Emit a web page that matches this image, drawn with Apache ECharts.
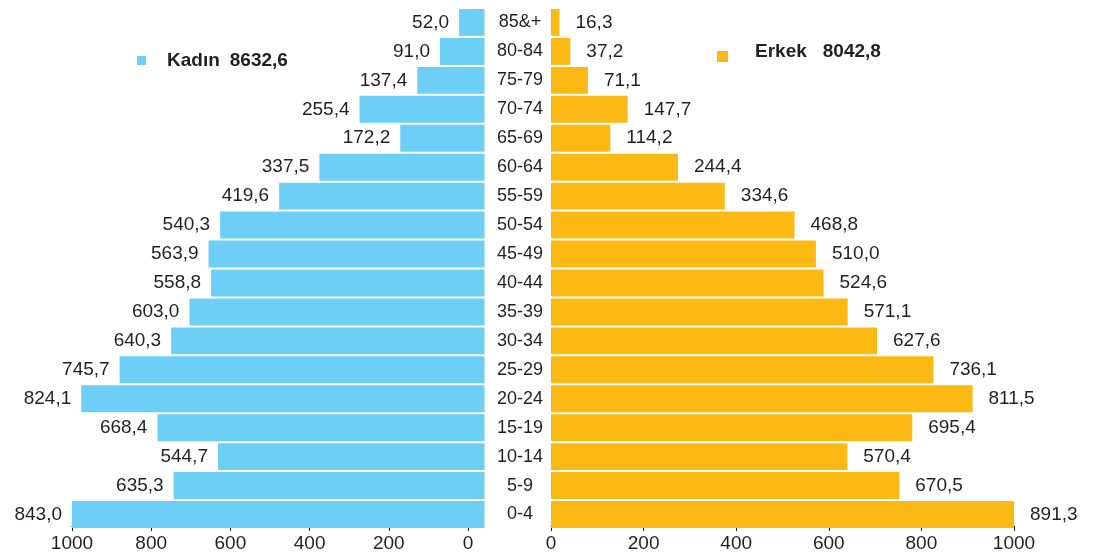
<!DOCTYPE html>
<html>
<head>
<meta charset="utf-8">
<script src="https://cdn.jsdelivr.net/npm/echarts@6/dist/echarts.min.js"></script>
<style>
html,body{margin:0;padding:0;background:#fff;}
#chart{width:1094px;height:553px;}
</style>
</head>
<body>
<div id="chart"></div>
<script>
// Age groups, top to bottom
const ageGroups = ['85&+','80-84','75-79','70-74','65-69','60-64','55-59','50-54','45-49','40-44','35-39','30-34','25-29','20-24','15-19','10-14','5-9','0-4'];
// Kadın (female), thousands
const female = [52.0, 91.0, 137.4, 255.4, 172.2, 337.5, 419.6, 540.3, 563.9, 558.8, 603.0, 640.3, 745.7, 824.1, 668.4, 544.7, 635.3, 843.0];
// Erkek (male), thousands
const male = [16.3, 37.2, 71.1, 147.7, 114.2, 244.4, 334.6, 468.8, 510.0, 524.6, 571.1, 627.6, 736.1, 811.5, 695.4, 570.4, 670.5, 891.3];
// Axis tick labels
const tickValues = [0, 200, 400, 600, 800, 1000];
const femaleName = 'Kadın';
const maleName = 'Erkek';
const femaleTotal = '8632,6';
const maleTotal = '8042,8';

const FONT = "'Liberation Sans', Arial, sans-serif";
const TXT = '#231f20';
const BLUE = '#6dcff6';
const ORANGE = '#fdb913';
const fmt = v => v.toFixed(1).replace('.', ',');

const TOP = 8, H = 521;
const chart = echarts.init(document.getElementById('chart'));
const tickMax = tickValues[tickValues.length - 1];
const tickStep = tickValues[1] - tickValues[0];

const displayAxis = (gi, inverse) => ({
  gridIndex: gi, type: 'value', min: tickValues[0], max: tickMax, interval: tickStep, inverse,
  axisLine: { show: true, lineStyle: { color: '#222', width: 1 } },
  axisTick: { show: true, length: 5, lineStyle: { color: '#222' } },
  axisLabel: { fontSize: 19, color: TXT, fontFamily: FONT, margin: 8, formatter: v => String(v) },
  splitLine: { show: false }
});

const legendRich = (gap, sep, shift) => ({
  g: { width: gap },
  n: { fontSize: 19, fontWeight: 'bold', color: TXT, fontFamily: FONT, lineHeight: 20, padding: [0,0,shift,0] },
  s: { width: sep },
  v: { fontSize: 19, fontWeight: 'bold', color: TXT, fontFamily: FONT, lineHeight: 20, padding: [0,0,shift,0] }
});

chart.setOption({
  animation: false,
  backgroundColor: '#fff',
  grid: [
    { left: 72, top: TOP, width: 412.5, height: H },
    { left: 551, top: TOP, width: 463, height: H },
    { left: 72, top: TOP, width: 396, height: H },
    { left: 551, top: TOP, width: 463, height: H }
  ],
  legend: [
    {
      data: [femaleName], left: 137, top: 51, padding: 0,
      itemWidth: 9, itemHeight: 9, icon: 'rect',
      formatter: n => '{g|}{n|' + n + '}{s|}{v|' + femaleTotal + '}',
      textStyle: { rich: legendRich(16, 10, 0) }
    },
    {
      data: [maleName], left: 717, top: 42, padding: 0,
      itemWidth: 11, itemHeight: 11, icon: 'rect',
      formatter: n => '{g|}{n|' + n + '}{s|}{v|' + maleTotal + '}',
      textStyle: { rich: legendRich(22, 16, 10) }
    }
  ],
  xAxis: [
    { gridIndex: 0, type: 'value', min: 0, max: Math.max(...female), inverse: true, show: false },
    { gridIndex: 1, type: 'value', min: 0, max: Math.max(...male), show: false },
    displayAxis(2, true),
    displayAxis(3, false)
  ],
  yAxis: [
    { gridIndex: 0, type: 'category', data: ageGroups, inverse: true, show: false },
    { gridIndex: 1, type: 'category', data: ageGroups, inverse: true, position: 'left',
      axisLine: { show: false }, axisTick: { show: false },
      axisLabel: { margin: 31, align: 'center', fontSize: 18, color: TXT, fontFamily: FONT } },
    { gridIndex: 2, type: 'value', show: false },
    { gridIndex: 3, type: 'value', show: false }
  ],
  series: [
    {
      name: femaleName, type: 'bar', xAxisIndex: 0, yAxisIndex: 0, data: female,
      barCategoryGap: '7%', itemStyle: { color: BLUE },
      label: { show: true, position: 'left', distance: 10, formatter: p => fmt(p.value),
        fontSize: 19, color: TXT, fontFamily: FONT }
    },
    {
      name: maleName, type: 'bar', xAxisIndex: 1, yAxisIndex: 1, data: male,
      barCategoryGap: '7%', itemStyle: { color: ORANGE },
      label: { show: true, position: 'right', distance: 16, formatter: p => fmt(p.value),
        fontSize: 19, color: TXT, fontFamily: FONT }
    }
  ]
});
</script>
</body>
</html>
